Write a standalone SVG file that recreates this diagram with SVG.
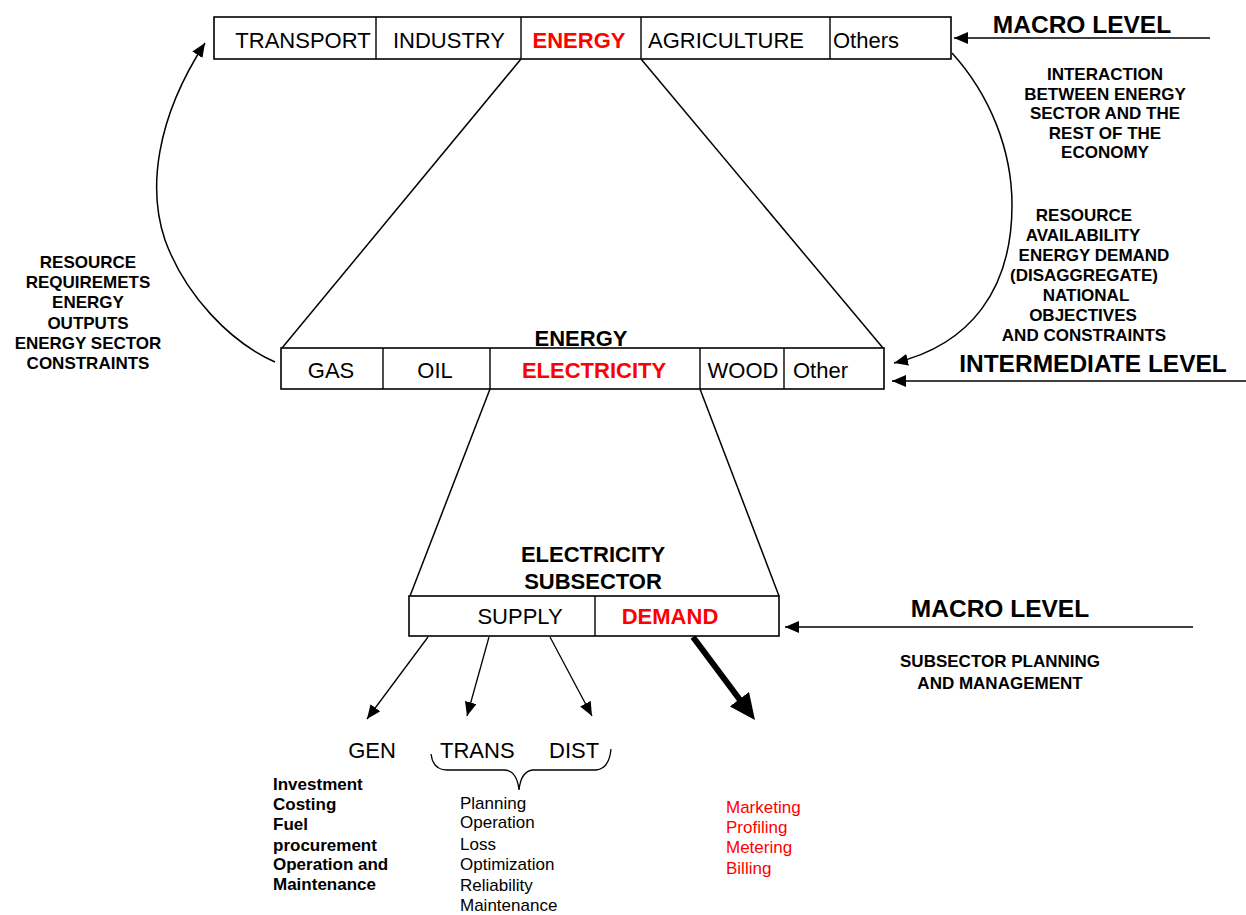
<svg xmlns="http://www.w3.org/2000/svg" width="1246" height="915" viewBox="0 0 1246 915">
<style>
text { font-family: "Liberation Sans", Arial, sans-serif; fill:#000; }
.box { fill:#fff; stroke:#000; stroke-width:1.6; }
.div { stroke:#000; stroke-width:1.4; }
.cell { font-size:22px; text-anchor:middle; }
.cs { font-size:22px; }
.red { fill:#f00; font-weight:bold; }
.title { font-size:22px; font-weight:bold; text-anchor:middle; }
.note { font-size:17px; font-weight:bold; text-anchor:middle; }
.level { font-size:24.5px; font-weight:bold; text-anchor:middle; }
.conn { stroke:#000; stroke-width:1.5; fill:none; }
.thin { stroke:#000; stroke-width:1.3; fill:none; }
.list { font-size:17px; }
.listb { font-size:17px; font-weight:bold; }
.listr { font-size:17px; fill:#f00; }
.sub { font-size:22px; }
</style>
<defs>
<marker id="ah" viewBox="0 0 14 12" refX="14" refY="6" markerWidth="14" markerHeight="12" markerUnits="userSpaceOnUse" orient="auto">
<path d="M0,0 L14,6 L0,12 z" fill="#000"/>
</marker>
<marker id="ahBig" viewBox="0 0 26 24" refX="2" refY="12" markerWidth="26" markerHeight="24" markerUnits="userSpaceOnUse" orient="auto">
<path d="M0,0 L26,12 L0,24 z" fill="#000"/>
</marker>
</defs>

<g id="connectors">
<line class="conn" x1="521" y1="59" x2="282" y2="348"/>
<line class="conn" x1="641" y1="59" x2="883" y2="348"/>
<line class="conn" x1="490" y1="389" x2="410" y2="596"/>
<line class="conn" x1="700" y1="389" x2="779" y2="596"/>
<line class="conn" x1="1210" y1="38" x2="954" y2="38" marker-end="url(#ah)"/>
<line class="conn" x1="1246" y1="381" x2="892" y2="381" marker-end="url(#ah)"/>
<line class="conn" x1="1193" y1="627" x2="785" y2="627" marker-end="url(#ah)"/>
<path class="conn" d="M275,362 C230,342 185,295 165,240 C148,190 155,120 205,43" marker-end="url(#ah)"/>
<path class="conn" d="M952,53 C990,95 1012,150 1012,205 C1012,290 970,345 894,363" marker-end="url(#ah)"/>
<line class="thin" x1="428" y1="637" x2="367" y2="719" marker-end="url(#ah)"/>
<line class="thin" x1="489" y1="637" x2="467" y2="716" marker-end="url(#ah)"/>
<line class="thin" x1="550" y1="637" x2="592" y2="716" marker-end="url(#ah)"/>
<line x1="693" y1="637" x2="740.6" y2="700.8" stroke="#000" stroke-width="6" marker-end="url(#ahBig)"/>
<path class="thin" d="M431,754 Q433,770 447,770 L505,770 Q517,771 519,790 Q521,771 533,770 L596,770 Q609,769 611,749"/>
</g>

<g id="economy-bar">
<rect class="box" x="214" y="17" width="737" height="42"/>
<line class="div" x1="376" y1="17" x2="376" y2="59"/>
<line class="div" x1="521" y1="17" x2="521" y2="59"/>
<line class="div" x1="641" y1="17" x2="641" y2="59"/>
<line class="div" x1="830" y1="17" x2="830" y2="59"/>
<text class="cell" x="303" y="48">TRANSPORT</text>
<text class="cell" x="449" y="48">INDUSTRY</text>
<text class="cell red" x="579" y="48">ENERGY</text>
<text class="cell" x="726" y="48">AGRICULTURE</text>
<text class="cs" x="833" y="48">Others</text>
</g>

<g id="energy-bar">
<text class="title" x="581" y="346">ENERGY</text>
<rect class="box" x="281" y="348" width="603" height="41"/>
<line class="div" x1="383" y1="348" x2="383" y2="389"/>
<line class="div" x1="490" y1="348" x2="490" y2="389"/>
<line class="div" x1="700" y1="348" x2="700" y2="389"/>
<line class="div" x1="784" y1="348" x2="784" y2="389"/>
<text class="cell" x="331" y="378">GAS</text>
<text class="cell" x="435" y="378">OIL</text>
<text class="cell red" x="594" y="378">ELECTRICITY</text>
<text class="cell" x="743" y="378">WOOD</text>
<text class="cs" x="793" y="378">Other</text>
</g>

<g id="subsector-bar">
<text class="title" x="593" y="562">ELECTRICITY</text>
<text class="title" x="593" y="589">SUBSECTOR</text>
<rect class="box" x="409" y="596" width="370" height="40"/>
<line class="div" x1="595" y1="596" x2="595" y2="636"/>
<text class="cell" x="520" y="624">SUPPLY</text>
<text class="cell red" x="670" y="624">DEMAND</text>
</g>

<g id="macro-level-top">
<text class="level" x="1082" y="33">MACRO LEVEL</text>
</g>
<g id="interaction-note">
<text class="note" x="1105" y="80">INTERACTION</text>
<text class="note" x="1105" y="99.5">BETWEEN ENERGY</text>
<text class="note" x="1105" y="119">SECTOR AND THE</text>
<text class="note" x="1105" y="138.5">REST OF THE</text>
<text class="note" x="1105" y="158">ECONOMY</text>
</g>
<g id="resource-availability-note">
<text class="note" x="1084" y="221">RESOURCE</text>
<text class="note" x="1083" y="241">AVAILABILITY</text>
<text class="note" x="1094" y="261">ENERGY DEMAND</text>
<text class="note" x="1084" y="281">(DISAGGREGATE)</text>
<text class="note" x="1086" y="301">NATIONAL</text>
<text class="note" x="1083" y="321">OBJECTIVES</text>
<text class="note" x="1084" y="341">AND CONSTRAINTS</text>
</g>
<g id="intermediate-level">
<text class="level" x="1093" y="372">INTERMEDIATE LEVEL</text>
</g>
<g id="resource-requirements-note">
<text class="note" x="88" y="268">RESOURCE</text>
<text class="note" x="88" y="288">REQUIREMETS</text>
<text class="note" x="88" y="308">ENERGY</text>
<text class="note" x="88" y="329">OUTPUTS</text>
<text class="note" x="88" y="349">ENERGY SECTOR</text>
<text class="note" x="88" y="369">CONSTRAINTS</text>
</g>
<g id="macro-level-bottom">
<text class="level" x="1000" y="617">MACRO LEVEL</text>
<text class="note" x="1000" y="667">SUBSECTOR PLANNING</text>
<text class="note" x="1000" y="689">AND MANAGEMENT</text>
</g>

<g id="gen">
<text class="sub" x="372" y="758" text-anchor="middle">GEN</text>
<text class="listb" x="273" y="790">Investment</text>
<text class="listb" x="273" y="810">Costing</text>
<text class="listb" x="273" y="830">Fuel</text>
<text class="listb" x="273" y="851">procurement</text>
<text class="listb" x="273" y="870">Operation and</text>
<text class="listb" x="273" y="890">Maintenance</text>
</g>
<g id="trans-dist">
<text class="sub" x="440" y="758">TRANS</text>
<text class="sub" x="549" y="758">DIST</text>
<text class="list" x="460" y="809">Planning</text>
<text class="list" x="460" y="828">Operation</text>
<text class="list" x="460" y="850">Loss</text>
<text class="list" x="460" y="870">Optimization</text>
<text class="list" x="460" y="891">Reliability</text>
<text class="list" x="460" y="911">Maintenance</text>
</g>
<g id="demand-tasks">
<text class="listr" x="726" y="813">Marketing</text>
<text class="listr" x="726" y="833">Profiling</text>
<text class="listr" x="726" y="853">Metering</text>
<text class="listr" x="726" y="874">Billing</text>
</g>
</svg>
